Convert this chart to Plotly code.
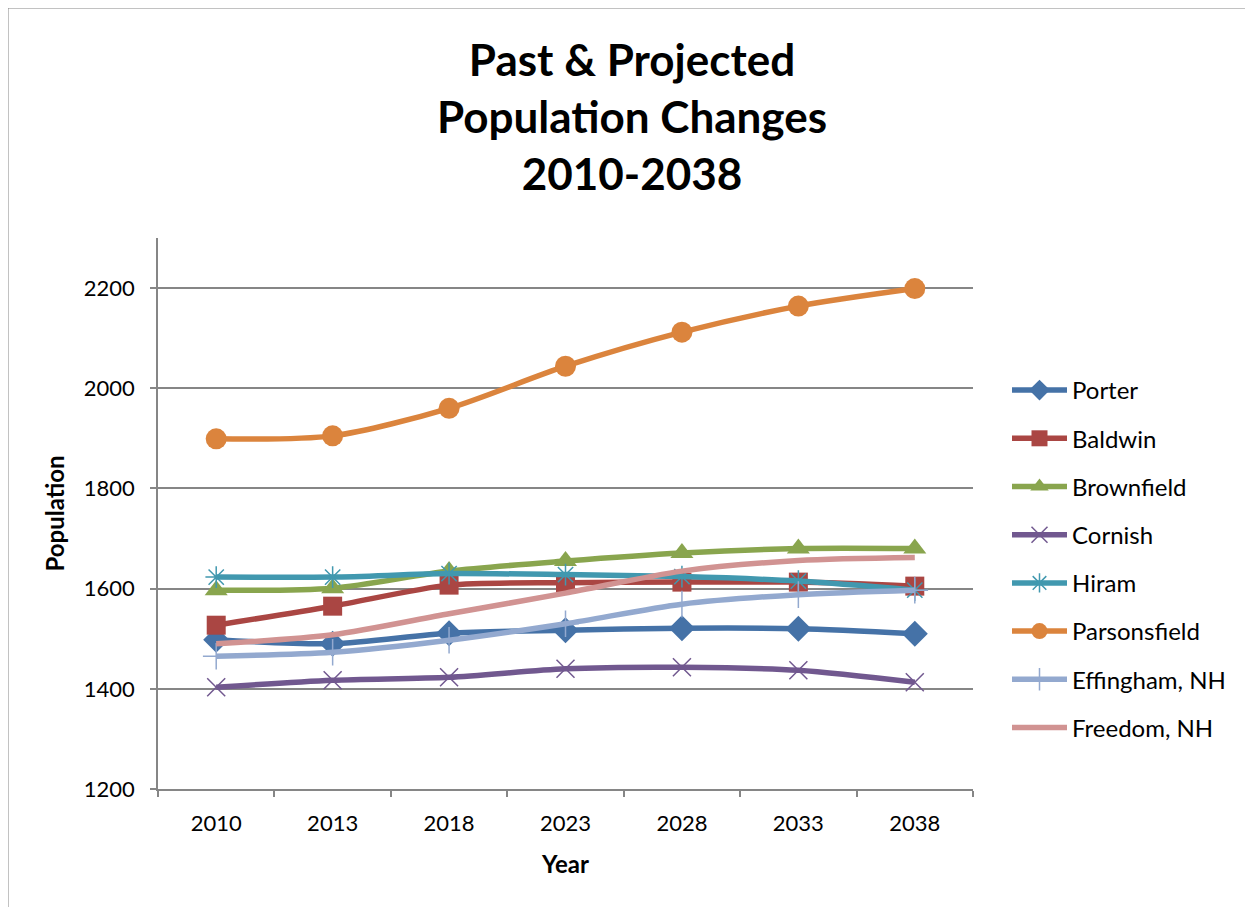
import plotly.graph_objects as go

years = ["2010", "2013", "2018", "2023", "2028", "2033", "2038"]

porter = [1498, 1490, 1511, 1517, 1521, 1520, 1510]
baldwin = [1527, 1565, 1607, 1612, 1613, 1613, 1605]
brownfield = [1597, 1601, 1635, 1655, 1671, 1680, 1680]
cornish = [1403, 1417, 1423, 1440, 1443, 1437, 1413]
hiram = [1623, 1623, 1630, 1628, 1624, 1615, 1597]
parsonsfield = [1899, 1905, 1960, 2044, 2112, 2164, 2199]
effingham = [1465, 1473, 1497, 1530, 1569, 1588, 1597]
freedom = [1490, 1508, 1550, 1591, 1635, 1656, 1662]

series = [
    ("Porter", porter, "#4572A7", "diamond", 20, 0),
    ("Baldwin", baldwin, "#AA4643", "square", 19, 0),
    ("Brownfield", brownfield, "#89A54E", "triangle-up", 20, 0),
    ("Cornish", cornish, "#71588F", "x-thin-open", 18, 1.5),
    ("Hiram", hiram, "#4198AF", "asterisk-open", 18, 1.5),
    ("Parsonsfield", parsonsfield, "#DB843D", "circle", 21, 0),
    ("Effingham, NH", effingham, "#93A9CF", "cross-thin-open", 19, 1.5),
    ("Freedom, NH", freedom, "#D19392", None, 0, 0),
]

FONT = "Lato"

fig = go.Figure()
for name, vals, color, sym, size, lw in series:
    mode = "lines+markers" if sym else "lines"
    marker = dict(symbol=sym, size=size, color=color, line=dict(width=lw, color=color)) if sym else None
    fig.add_trace(go.Scatter(
        x=years, y=vals, name=name, mode=mode,
        line=dict(color=color, width=5.5, shape="spline", smoothing=0.8),
        marker=marker, legendgroup=name,
    ))

# page body has an 8px margin; figure coordinates = page coordinates - 8
W, H = 1245, 899
L, R, T, B = 150, 280, 230, 118
pw, ph = W - L - R, H - T - B

def px_x(v):
    return (v - L) / pw

def px_y(v):
    return (H - B - v) / ph

fig.update_layout(
    width=W, height=H,
    margin=dict(l=L, r=R, t=T, b=B),
    paper_bgcolor="white", plot_bgcolor="white",
    font=dict(family=FONT, color="black"),
    title=dict(
        text="Past & Projected<br>Population Changes<br>2010-2038",
        font=dict(family=FONT, size=44, color="black", weight="bold"),
        x=624 / W, xanchor="center", xref="container",
        y=1 - 68 / H, yanchor="top", yref="container",
    ),
    legend=dict(
        x=px_x(999), xanchor="left", y=px_y(360), yanchor="top",
        font=dict(family=FONT, size=24, color="black"),
        tracegroupgap=14, bgcolor="rgba(0,0,0,0)",
        itemwidth=55,
    ),
    showlegend=True,
    shapes=[
        dict(type="line", xref="paper", yref="paper",
             x0=px_x(-0.5), x1=px_x(1270), y0=px_y(-0.5), y1=px_y(-0.5),
             line=dict(color="#868686", width=2)),
        dict(type="line", xref="paper", yref="paper",
             x0=px_x(-0.5), x1=px_x(-0.5), y0=px_y(-0.5), y1=px_y(920),
             line=dict(color="#868686", width=2)),
    ],
)

fig.update_xaxes(
    type="category", tickson="boundaries", range=[-0.5, len(years) - 0.5],
    ticks="outside", ticklen=6, tickcolor="#868686", tickwidth=1.5,
    showline=True, linecolor="#868686", linewidth=1.5,
    showgrid=False, zeroline=False,
    tickfont=dict(family=FONT, size=22, color="black"),
    ticklabelstandoff=14,
    title=dict(text="Year", font=dict(family=FONT, size=24, color="black", weight="bold"), standoff=21),
)
fig.update_yaxes(
    range=[1200, 2300], tick0=1200, dtick=200,
    ticks="outside", ticklen=6, tickcolor="#868686", tickwidth=1.5,
    showline=True, linecolor="#868686", linewidth=1.5,
    showgrid=True, gridcolor="#868686", gridwidth=1.5,
    zeroline=False,
    tickfont=dict(family=FONT, size=22, color="black"),
    ticklabelstandoff=11,
    title=dict(text="Population", font=dict(family=FONT, size=24, color="black", weight="bold"), standoff=12),
)

fig.write_html("out.html")
